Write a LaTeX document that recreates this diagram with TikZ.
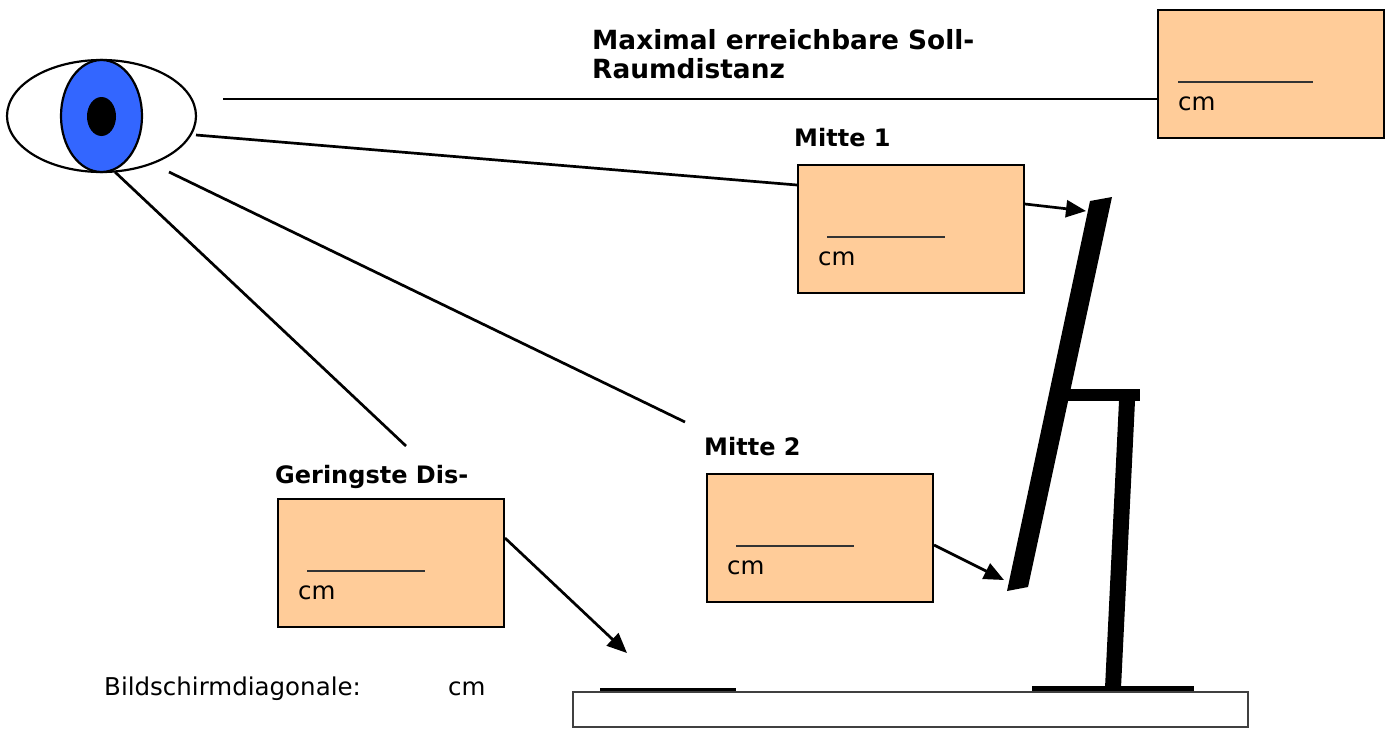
\documentclass[tikz,border=0pt]{standalone}
\usepackage{fontspec}
\setmainfont{DejaVu Sans}
\usetikzlibrary{arrows.meta}
\definecolor{boxorange}{HTML}{FFCC99}
\definecolor{irisblue}{HTML}{3366FF}
\tikzset{
  answer box/.style={draw,line width=2pt,fill=boxorange,minimum width=226pt,minimum height=128pt,anchor=north west,inner sep=0pt},
  blank line/.style={line width=1.4pt,black!80},
  sight line/.style={line width=2.7pt},
  pointer/.style={line width=2.7pt,-{Triangle[length=20pt,width=17pt]}},
  eye part/.style={line width=2.2pt},
  heading/.style={font=\bfseries\fontsize{24}{29}\selectfont,anchor=base west,inner sep=0pt,align=left},
  big heading/.style={heading,font=\bfseries\fontsize{26.4}{29}\selectfont},
  plain text/.style={font=\fontsize{24.5}{29}\selectfont,anchor=base west,inner sep=0pt},
}

\begin{document}
\begin{tikzpicture}[x=1pt,y=-1pt]
\useasboundingbox (0,0) rectangle (1391,729);
\draw[eye part,fill=white] (101.5,116) ellipse[x radius=94.5,y radius=56];
\draw[eye part,fill=irisblue] (101.5,116) ellipse[x radius=40.5,y radius=56];
\fill (101.5,116.5) ellipse[x radius=14.5,y radius=19.5];
\foreach \nm/\px/\py/\ux/\ul in {soll/1157/9/21/135, mitteeins/797/164/30/118, mittezwei/706/473/30/118, gering/277/498/30/118}
{
  \node[answer box] (\nm) at (\px,\py) {};
  \draw[blank line] ([xshift=\ux pt,yshift=-73pt]\nm.north west) -- ++(\ul,0);
  \node[plain text] (\nm-cm) at ([xshift=21pt,yshift=-101pt]\nm.north west) {cm};
}
\node[big heading] (soll-label) at (592,78) {Maximal erreichbare Soll-\\Raumdistanz};
\node[heading] (mitteeins-label) at (794,146) {Mitte 1};
\node[heading] (mittezwei-label) at (704,455) {Mitte 2};
\node[heading] (gering-label) at (275,483) {Geringste Dis-};
\node[plain text] (diag-label) at (104,695) {Bildschirmdiagonale:};
\node[plain text] (diag-cm) at (448,695) {cm};
\coordinate (eye-a) at (223,99);
\coordinate (eye-b) at (196,135);
\coordinate (eye-c) at (169,172);
\coordinate (eye-d) at (115,172);
\coordinate (mittezwei-end) at (685,422);
\coordinate (gering-end) at (406,446);
\draw[sight line] (eye-a) -- (soll.west |- eye-a);
\draw[sight line] (eye-b) -- ([yshift=-21pt]mitteeins.north west);
\draw[sight line] (eye-c) -- (mittezwei-end);
\draw[sight line] (eye-d) -- (gering-end);
\coordinate (screen-top) at (1086,211);
\coordinate (screen-bottom) at (1004,580);
\coordinate (desk-front) at (627,653);
\draw[pointer] ([yshift=-40pt]mitteeins.north east) -- (screen-top);
\draw[pointer] ([yshift=-72pt]mittezwei.north east) -- (screen-bottom);
\draw[pointer] ([yshift=-40pt]gering.north east) -- (desk-front);
\fill (1090,201) -- (1112,197) -- (1028,587) -- (1007,591) -- cycle;
\fill (1068,389) rectangle (1140,401);
\fill (1119,401) -- (1135,401) -- (1121,688) -- (1105,688) -- cycle;
\fill (1032,686) rectangle (1194,692);
\fill (600,688) rectangle (736,692);
\draw[line width=1.6pt,black!75] (573,692) rectangle (1248,727);
\end{tikzpicture}
\end{document}
